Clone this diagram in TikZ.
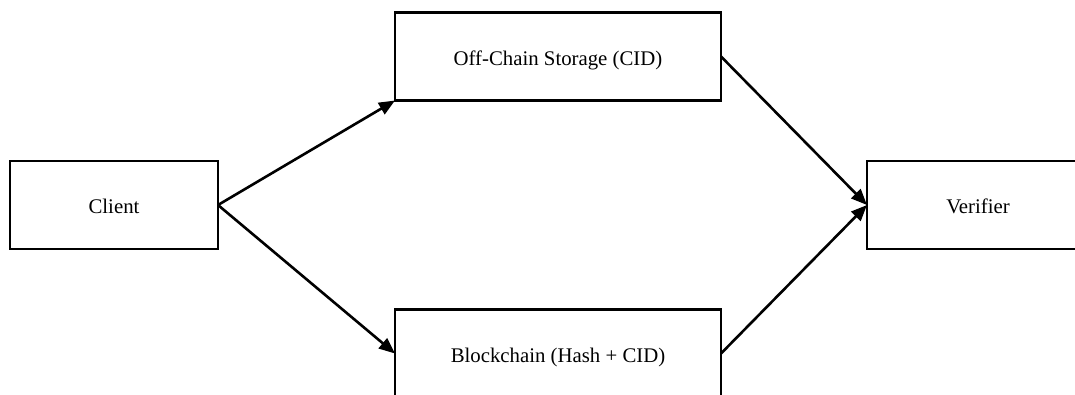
\documentclass[tikz,border=0pt]{standalone}
\usepackage{fontspec}
\setmainfont{Liberation Serif}
\usetikzlibrary{arrows.meta}
\begin{document}
\begin{tikzpicture}[x=1pt,y=-1pt,
  boxnode/.style={draw=black, line width=2.6pt, fill=white, rectangle, inner sep=0pt, outer sep=0pt, font=\fontsize{20.8}{24}\selectfont, text height=17pt, text depth=0pt, minimum height=88pt},
  conn/.style={line width=2.6pt, -{Triangle[length=16pt,width=13pt]}, shorten >=0pt}
]
\path[use as bounding box] (0,0) rectangle (1075,394);
\clip (0,0) rectangle (1075,394);
\node[boxnode, minimum width=208pt] (client) at (114,205) {Client};
\node[boxnode, minimum width=326pt] (offchain) at (558,56.5) {Off-Chain Storage (CID)};
\node[boxnode, minimum width=326pt] (chain) at (558,353.5) {Blockchain (Hash + CID)};
\node[boxnode, minimum width=222pt] (verifier) at (978,205) {Verifier};
\draw[conn] (client.east) -- (offchain.south west);
\draw[conn] (client.east) -- (chain.west);
\draw[conn] (offchain.east) -- (verifier.west);
\draw[conn] (chain.east) -- (verifier.west);
\end{tikzpicture}
\end{document}
